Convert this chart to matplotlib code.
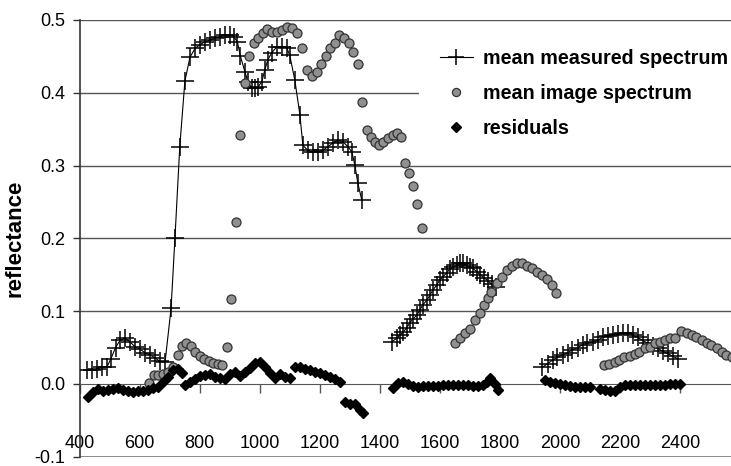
import numpy as np
import matplotlib
matplotlib.use("Agg")
import matplotlib.pyplot as plt

nan = np.nan

# mean measured spectrum (nan separates the gaps)
measured_wl = [425, 441, 458, 475, 491, 505, 520, 535, 551, 568, 585, 601, 618, 635, 651, 668, 685,
               705, 718, 734, 751, 768, 785, 801, 818, 834, 851, 868, 884, 901, 914, 926, 936, 951,
               961, 974, 984, 994, 1007, 1017, 1027, 1040, 1057, 1074, 1090, 1100, 1117, 1134, 1144,
               1160, 1177, 1194, 1211, 1227, 1244, 1260, 1277, 1294, 1307, 1317, 1327, 1340,
               nan,
               1440, 1457, 1467, 1477, 1490, 1500, 1510, 1524, 1534, 1544, 1557, 1567, 1577, 1590,
               1600, 1610, 1624, 1634, 1644, 1657, 1667, 1677, 1690, 1700, 1710, 1724, 1734, 1747,
               1760, 1773, 1787,
               nan,
               1942, 1959, 1976, 1992, 2009, 2026, 2042, 2059, 2076, 2092, 2109, 2126, 2142, 2159,
               2176, 2192, 2209, 2226, 2242, 2259, 2276, 2292, 2309, 2326, 2342, 2359, 2376, 2392]
measured_val = [0.019, 0.019, 0.020, 0.024, 0.023, 0.035, 0.050, 0.060, 0.063, 0.058, 0.051, 0.048,
                0.043, 0.040, 0.036, 0.031, 0.030,
                0.104, 0.201, 0.326, 0.416, 0.449, 0.461, 0.466, 0.470, 0.472, 0.475, 0.477, 0.479,
                0.479, 0.477, 0.470, 0.450, 0.429, 0.415, 0.406, 0.406, 0.408, 0.415, 0.431, 0.445,
                0.455, 0.463, 0.463, 0.462, 0.452, 0.418, 0.370, 0.328, 0.321, 0.319, 0.319, 0.321,
                0.326, 0.331, 0.335, 0.333, 0.326, 0.319, 0.301, 0.276, 0.253,
                nan,
                0.058, 0.063, 0.067, 0.071, 0.077, 0.084, 0.089, 0.095, 0.102, 0.109, 0.115, 0.122,
                0.129, 0.136, 0.143, 0.147, 0.153, 0.158, 0.161, 0.163, 0.166, 0.166, 0.163, 0.161,
                0.159, 0.154, 0.150, 0.146, 0.142, 0.137, 0.133,
                nan,
                0.023, 0.028, 0.033, 0.037, 0.040, 0.043, 0.047, 0.050, 0.054, 0.056, 0.058, 0.060,
                0.064, 0.066, 0.067, 0.069, 0.070, 0.070, 0.067, 0.064, 0.060, 0.056, 0.052, 0.049,
                0.045, 0.042, 0.038, 0.035]

# mean image spectrum
image_wl = [631, 647, 663, 679, 695, 711, 727, 742, 756, 770, 785, 800, 815, 830, 845, 860, 876,
            891, 905, 920, 935, 950, 965, 980, 995, 1010, 1025, 1040, 1057, 1074, 1090, 1107, 1124,
            1140, 1157, 1174, 1190, 1205, 1220, 1235, 1250, 1265, 1282, 1297, 1312, 1326, 1342,
            1357, 1370, 1383, 1396, 1410, 1427, 1443, 1457, 1470, 1484, 1497, 1510, 1524, 1540,
            1650, 1667, 1683, 1700, 1716, 1733, 1747, 1760, 1772, 1790, 1806, 1823, 1840, 1856,
            1873, 1890, 1906, 1923, 1940, 1956, 1973, 1986,
            2148, 2165, 2182, 2198, 2215, 2232, 2249, 2265, 2282, 2299, 2316, 2332, 2349, 2366,
            2382, 2405, 2422, 2439, 2455, 2472, 2489, 2505, 2522, 2539, 2555, 2572]
image_val = [0.002, 0.012, 0.013, 0.014, 0.017, 0.024, 0.040, 0.052, 0.057, 0.052, 0.044, 0.038,
             0.035, 0.032, 0.029, 0.027, 0.026,
             0.051, 0.117, 0.222, 0.342, 0.413, 0.450, 0.468, 0.475, 0.482, 0.487, 0.484, 0.484,
             0.486, 0.490, 0.489, 0.482, 0.461, 0.431, 0.423, 0.429, 0.440, 0.450, 0.461, 0.469,
             0.479, 0.475, 0.468, 0.456, 0.440, 0.387, 0.349, 0.339, 0.332, 0.328, 0.332, 0.338,
             0.342, 0.345, 0.339, 0.304, 0.290, 0.272, 0.247, 0.214,
             0.056, 0.063, 0.070, 0.075, 0.088, 0.098, 0.108, 0.118, 0.126, 0.139, 0.147, 0.157,
             0.162, 0.166, 0.166, 0.162, 0.159, 0.154, 0.150, 0.144, 0.136, 0.125,
             0.026, 0.028, 0.030, 0.033, 0.037, 0.039, 0.041, 0.044, 0.049, 0.051, 0.056, 0.058,
             0.060, 0.063, 0.063, 0.073, 0.070, 0.067, 0.065, 0.060, 0.057, 0.053, 0.049, 0.044,
             0.040, 0.037]

# residuals
resid_wl = [429, 445, 462, 478, 495, 511, 528, 545, 561, 578, 595, 611, 628, 645, 662, 678, 695,
            712, 728, 740, 751, 768, 785, 801, 818, 834, 851, 868, 884, 901, 918, 934, 951, 968,
            984, 1001, 1018, 1034, 1051, 1067, 1084, 1101, 1117, 1134, 1151, 1167, 1184, 1201,
            1217, 1234, 1251, 1267, 1284, 1301, 1317, 1334, 1344,
            1443, 1460, 1477, 1494, 1510, 1527, 1543, 1560, 1577, 1593, 1610, 1627, 1643, 1660,
            1677, 1693, 1710, 1727, 1743, 1757, 1767, 1783, 1793,
            1950, 1966, 1983, 2000, 2016, 2033, 2050, 2066, 2083, 2100, 2133, 2149, 2166, 2183,
            2199, 2216, 2233, 2249, 2266, 2283, 2299, 2316, 2333, 2349, 2366, 2383, 2399]
resid_val = [-0.018, -0.011, -0.007, -0.009, -0.008, -0.007, -0.006, -0.008, -0.010, -0.011,
             -0.010, -0.009, -0.008, -0.006, -0.004, 0.003, 0.010, 0.019, 0.020, 0.015, -0.001,
             0.003, 0.007, 0.011, 0.012, 0.014, 0.010, 0.008, 0.007, 0.014, 0.017, 0.011, 0.017,
             0.022, 0.029, 0.030, 0.023, 0.015, 0.008, 0.014, 0.010, 0.008, 0.023, 0.024, 0.021,
             0.019, 0.017, 0.015, 0.013, 0.010, 0.007, 0.003, -0.025, -0.028, -0.027, -0.036,
             -0.040,
             -0.006, 0.001, 0.003, 0.000, -0.003, -0.004, -0.003, -0.003, -0.003, -0.003, -0.002,
             -0.002, -0.002, -0.002, -0.002, -0.002, -0.003, -0.003, -0.002, 0.003, 0.008, 0.000,
             -0.008,
             0.006, 0.003, 0.002, 0.000, -0.002, -0.003, -0.004, -0.004, -0.004, -0.004, -0.007,
             -0.008, -0.009, -0.010, -0.004, -0.002, -0.002, -0.002, -0.002, -0.002, -0.001,
             -0.001, -0.001, -0.001, 0.000, 0.000, 0.000]

x_ticks = [400, 600, 800, 1000, 1200, 1400, 1600, 1800, 2000, 2200, 2400]
y_ticks = [-0.1, 0.0, 0.1, 0.2, 0.3, 0.4, 0.5]
y_tick_labels = ["-0.1", "0.0", "0.1", "0.2", "0.3", "0.4", "0.5"]

plt.rcParams['font.family'] = ['Liberation Sans', 'DejaVu Sans']

fig = plt.figure(figsize=(7.31, 4.66), dpi=100)
W, H = 731, 466
left, right, top, bottom = 79.5, 731, 20, 456.8
ax = fig.add_axes([left / W, 1 - bottom / H, (right - left) / W, (bottom - top) / H])
ax.set_xlim(400, 2570)
ax.set_ylim(-0.1, 0.5)

grid_c = '#555555'
for v in y_ticks[2:]:
    ax.axhline(v, color=grid_c, lw=1.0, zorder=1)
ax.axhline(-0.1, color='#777777', lw=1.2, zorder=1)

ax.plot(measured_wl, measured_val, color='black', lw=0.8, marker='+', ms=13, mew=1.1,
        label='mean measured spectrum', zorder=3)
ax.plot(image_wl, image_val, ls='none', marker='o', ms=6.5, mfc='#909090', mec='#333333',
        mew=0.9, label='mean image spectrum', zorder=4)
ax.plot(resid_wl, resid_val, ls='none', marker='D', ms=5.5, mfc='black', mec='black',
        label='residuals', zorder=5)

for s in ['top', 'right']:
    ax.spines[s].set_visible(False)
ax.spines['bottom'].set_position(('data', 0))
ax.spines['bottom'].set_color(grid_c)
ax.spines['left'].set_color('#333333')
ax.spines['left'].set_linewidth(1.2)

ax.set_xticks(x_ticks)
ax.set_xticklabels([str(t) for t in x_ticks])
ax.set_yticks(y_ticks)
ax.set_yticklabels(y_tick_labels)
ax.tick_params(axis='x', direction='out', length=6.5, width=1, color=grid_c, pad=30,
               labelsize=13)
ax.tick_params(axis='y', direction='out', length=5, width=1, color='#333333', pad=5,
               labelsize=13)

fig.text(15 / W, 1 - 238 / H, 'reflectance', rotation=90, ha='center', va='center',
         fontsize=16, fontweight='bold')

leg = ax.legend(loc='upper left', bbox_to_anchor=(419 / W, 1 - 28 / H),
                bbox_transform=fig.transFigure, frameon=True, fancybox=False,
                facecolor='white', edgecolor='none', framealpha=1, borderaxespad=0,
                prop={'weight': 'bold', 'size': 14.2}, handlelength=1.7, handletextpad=0.5,
                labelspacing=0.82, borderpad=1.05, markerscale=0.9)
leg.set_zorder(6)

fig.savefig('out.png', dpi=100)
